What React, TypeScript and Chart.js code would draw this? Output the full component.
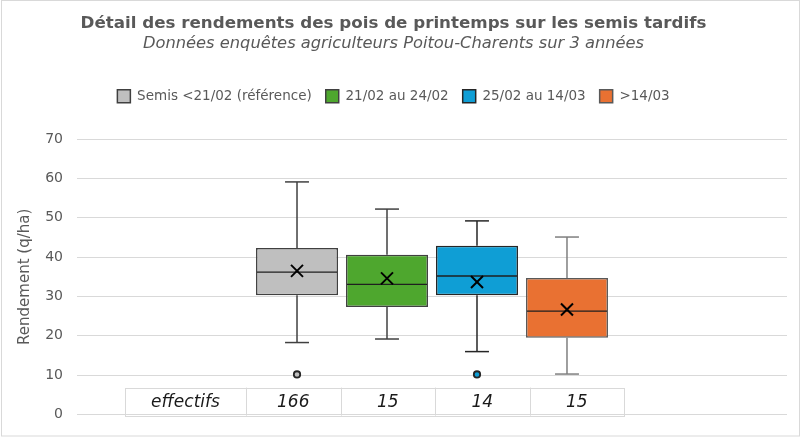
import React, { useEffect, useRef } from "react";
import { Chart, registerables } from "chart.js";

Chart.register(...registerables);

// ---- Data ----
const categories = ["Pois de printemps"];
const seriesNames = ["Semis <21/02 (référence)", "21/02 au 24/02", "25/02 au 14/03", ">14/03"];
const minValues = [18.3, 19.2, 16.0, 10.3];
const q1Values = [30.3, 27.3, 30.3, 19.5];
const medianValues = [36.2, 33.1, 35.2, 26.3];
const q3Values = [42.3, 40.6, 42.9, 34.7];
const maxValues = [59.1, 52.2, 49.2, 45.1];
const meanValues = [36.5, 34.6, 33.7, 26.7];
const outlierValues = [[10.2], [], [10.2], []];
const effectifs = [166, 15, 14, 15];
const tableLabel = "effectifs";
const yMin = 0;
const yMax = 70;
const yStep = 10;

// ---- Styles ----
const fillColors = ["#BFBFBF", "#4EA72E", "#0F9ED5", "#E97132"];
const borderColors = ["#404040", "#404040", "#262626", "#595959"];
const whiskerColors = ["#404040", "#404040", "#262626", "#7F7F7F"];
const FONT = "'DejaVu Sans', 'Liberation Sans', sans-serif";
const TEXT = "#595959";

const boxPlotPlugin = {
  id: "boxWhiskers",
  afterDatasetsDraw(chart: any) {
    const ctx = chart.ctx;
    const ys = chart.scales.y;
    const Y = (v: number) => ys.getPixelForValue(v);
    chart.data.datasets.forEach((_ds: any, i: number) => {
      const meta = chart.getDatasetMeta(i);
      const bar = meta.data[0];
      if (!bar) return;
      const { x, width } = bar.getProps(["x", "width"], true);
      const half = width / 2;
      const cap = width * 0.146;
      const line = (x1: number, y1: number, x2: number, y2: number) => {
        ctx.beginPath();
        ctx.moveTo(x1, y1);
        ctx.lineTo(x2, y2);
        ctx.stroke();
      };
      ctx.save();
      ctx.lineCap = "butt";
      ctx.strokeStyle = whiskerColors[i];
      ctx.lineWidth = 1.5;
      line(x, Y(q3Values[i]), x, Y(maxValues[i]));
      line(x - cap, Y(maxValues[i]), x + cap, Y(maxValues[i]));
      line(x, Y(q1Values[i]), x, Y(minValues[i]));
      line(x - cap, Y(minValues[i]), x + cap, Y(minValues[i]));
      // median
      ctx.strokeStyle = "#1F1F1F";
      ctx.lineWidth = 1.3;
      line(x - half + 1, Y(medianValues[i]), x + half - 1, Y(medianValues[i]));
      // mean marker
      const ym = Y(meanValues[i]);
      const s = 6;
      ctx.strokeStyle = "#000000";
      ctx.lineWidth = 2;
      line(x - s, ym - s, x + s, ym + s);
      line(x - s, ym + s, x + s, ym - s);
      // outliers
      outlierValues[i].forEach((v) => {
        ctx.beginPath();
        ctx.arc(x, Y(v), 3.2, 0, Math.PI * 2);
        ctx.fillStyle = fillColors[i];
        ctx.fill();
        ctx.lineWidth = 1.8;
        ctx.strokeStyle = "#262626";
        ctx.stroke();
      });
      ctx.restore();
    });
  },
};

const tablePlugin = {
  id: "effectifsTable",
  afterDraw(chart: any) {
    const { ctx, chartArea } = chart;
    const left = chartArea.left + 48;
    const top = chartArea.bottom - 27;
    const h = 28;
    const labelW = 121;
    const colW = 94.5;
    const total = labelW + colW * effectifs.length;
    ctx.save();
    ctx.strokeStyle = "#D9D9D9";
    ctx.lineWidth = 1;
    ctx.strokeRect(Math.round(left) + 0.5, Math.round(top) + 0.5, Math.round(total), h);
    for (let i = 0; i < effectifs.length; i++) {
      const xx = Math.round(left + labelW + colW * i) + 0.5;
      ctx.beginPath();
      ctx.moveTo(xx, top);
      ctx.lineTo(xx, top + h);
      ctx.stroke();
    }
    ctx.fillStyle = "#1A1A1A";
    ctx.font = `italic 17px ${FONT}`;
    ctx.textAlign = "center";
    ctx.textBaseline = "middle";
    const cy = top + h / 2 + 1;
    ctx.fillText(tableLabel, left + labelW / 2, cy);
    effectifs.forEach((n, i) => {
      ctx.fillText(String(n), left + labelW + colW * i + colW / 2, cy);
    });
    ctx.restore();
  },
};

const framePlugin = {
  id: "frame",
  afterDraw(chart: any) {
    const ctx = chart.ctx;
    ctx.save();
    ctx.strokeStyle = "#D9D9D9";
    ctx.lineWidth = 1;
    ctx.strokeRect(1.5, 0.5, chart.width - 2, chart.height - 1.5);
    ctx.restore();
  },
};

const legendSpacer = {
  id: "legendSpacer",
  beforeLayout(chart: any) {
    const lg = chart.legend;
    if (lg && !lg._spacerPatched) {
      const orig = lg.fit;
      lg.fit = function () {
        orig.call(this);
        this.height += 25.9;
      };
      lg._spacerPatched = true;
    }
  },
};

export default function App() {
  const ref = useRef<HTMLCanvasElement>(null);
  useEffect(() => {
    document.body.style.margin = "0";
    const canvas = ref.current;
    if (!canvas) return;
    const chart = new Chart(canvas, {
      type: "bar",
      data: {
        labels: categories,
        datasets: seriesNames.map((name, i) => ({
          label: name,
          data: [[q1Values[i], q3Values[i]]] as any,
          backgroundColor: fillColors[i],
          borderColor: borderColors[i],
          borderWidth: 1.5,
          borderSkipped: false,
          categoryPercentage: 0.507,
          barPercentage: 0.911,
        })),
      },
      options: {
        responsive: true,
        maintainAspectRatio: false,
        animation: false,
        events: [],
        layout: { padding: { left: 0, right: 13, top: 0, bottom: 22 } },
        plugins: {
          title: {
            display: true,
            text: "Détail des rendements des pois de printemps sur les semis tardifs",
            color: TEXT,
            font: { family: FONT, size: 16.7, weight: "bold" },
            padding: { top: 14, bottom: 0 },
          },
          subtitle: {
            display: true,
            text: "Données enquêtes agriculteurs Poitou-Charents sur 3 années",
            color: TEXT,
            font: { family: FONT, size: 16.3, style: "italic" },
            padding: { top: 0, bottom: 22 },
          },
          legend: {
            display: true,
            position: "top",
            labels: {
              color: TEXT,
              font: { family: FONT, size: 13.5 },
              boxWidth: 13,
              boxHeight: 13,
              padding: 14,
            },
          },
          tooltip: { enabled: false },
        },
        scales: {
          x: {
            display: false,
          },
          y: {
            min: yMin,
            max: yMax,
            ticks: {
              stepSize: yStep,
              color: TEXT,
              font: { family: FONT, size: 14 },
              padding: 14,
            },
            grid: { color: "#D9D9D9", lineWidth: 1, drawTicks: false },
            border: { display: false },
            title: {
              display: true,
              text: "Rendement (q/ha)",
              color: TEXT,
              font: { family: FONT, size: 15 },
              padding: { top: 16, bottom: 0 },
            },
            afterFit(scale: any) {
              scale.width = 77;
            },
          },
        },
      },
      plugins: [legendSpacer, boxPlotPlugin, tablePlugin, framePlugin],
    });
    return () => chart.destroy();
  }, []);
  return (
    <div style={{ width: 800, height: 437, position: "relative" }}>
      <canvas ref={ref} />
    </div>
  );
}
